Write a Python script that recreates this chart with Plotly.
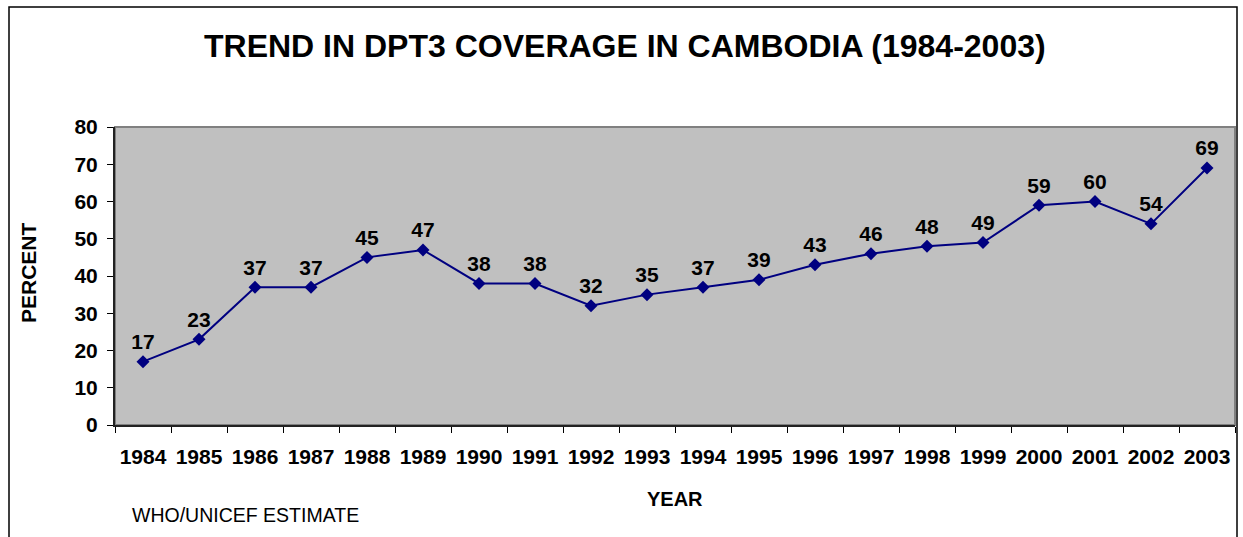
import plotly.graph_objects as go

# DPT3 coverage in Cambodia, WHO/UNICEF estimates
years = ["1984", "1985", "1986", "1987", "1988", "1989", "1990", "1991", "1992", "1993",
         "1994", "1995", "1996", "1997", "1998", "1999", "2000", "2001", "2002", "2003"]
coverage = [17, 23, 37, 37, 45, 47, 38, 38, 32, 35, 37, 39, 43, 46, 48, 49, 59, 60, 54, 69]
y_ticks = [0, 10, 20, 30, 40, 50, 60, 70, 80]

FONT = "Arial, Liberation Sans, sans-serif"
W, H = 1243, 537
L, R, T, B = 115, 8, 127, 112
pw, ph = W - L - R, H - T - B


def px_to_paper_x(px):
    return (px - L) / pw


def px_to_paper_y(py):
    return (H - B - py) / ph


fig = go.Figure()
fig.add_trace(go.Scatter(
    x=years, y=coverage,
    mode="lines+markers+text",
    line=dict(color="#000080", width=2),
    marker=dict(symbol="diamond", size=10, color="#000080"),
    text=[str(v) for v in coverage],
    textposition="top center",
    textfont=dict(family=FONT, size=21, color="black", weight="bold"),
    cliponaxis=False,
    hoverinfo="x+y",
))

fig.update_layout(
    width=W, height=H,
    margin=dict(l=L, r=R, t=T, b=B),
    paper_bgcolor="white",
    plot_bgcolor="#C0C0C0",
    showlegend=False,
    font=dict(family=FONT, color="black"),
    xaxis=dict(
        type="category",
        range=[-0.5, len(years) - 0.5],
        tickson="boundaries",
        tickangle=0,
        automargin=False,
        ticks="outside", ticklen=6, tickcolor="black", tickwidth=1,
        showgrid=False, zeroline=False,
        showline=True, linecolor="#222222", linewidth=2,
        tickfont=dict(size=21, weight="bold"),
        ticklabelstandoff=12,
    ),
    yaxis=dict(
        range=[0, 80],
        tickvals=y_ticks,
        automargin=False,
        ticks="outside", ticklen=6, tickcolor="black", tickwidth=1,
        showgrid=False, zeroline=False,
        showline=True, linecolor="#222222", linewidth=2,
        tickfont=dict(size=21, weight="bold"),
        ticklabelstandoff=5,
    ),
    shapes=[
        # plot-area frame
        dict(type="rect", xref="paper", yref="paper", x0=0, y0=0, x1=1, y1=1,
             line=dict(color="#808080", width=2), layer="below"),
        # outer chart border
        dict(type="rect", xref="paper", yref="paper",
             x0=px_to_paper_x(9), y0=px_to_paper_y(560),
             x1=px_to_paper_x(1237), y1=px_to_paper_y(7),
             line=dict(color="black", width=1.5)),
    ],
    annotations=[
        dict(text="TREND IN DPT3 COVERAGE IN CAMBODIA (1984-2003)",
             xref="paper", yref="paper", x=px_to_paper_x(625), y=px_to_paper_y(46),
             xanchor="center", yanchor="middle", showarrow=False,
             font=dict(size=32, weight="bold")),
        dict(text="PERCENT", textangle=-90,
             xref="paper", yref="paper", x=px_to_paper_x(28), y=px_to_paper_y(273),
             xanchor="center", yanchor="middle", showarrow=False,
             font=dict(size=21, weight="bold")),
        dict(text="YEAR",
             xref="paper", yref="paper", x=px_to_paper_x(675), y=px_to_paper_y(499),
             xanchor="center", yanchor="middle", showarrow=False,
             font=dict(size=20, weight="bold")),
        dict(text="WHO/UNICEF ESTIMATE",
             xref="paper", yref="paper", x=px_to_paper_x(130), y=px_to_paper_y(515),
             xanchor="left", yanchor="middle", showarrow=False,
             font=dict(size=19.5)),
    ],
)

fig.write_html("out.html")
